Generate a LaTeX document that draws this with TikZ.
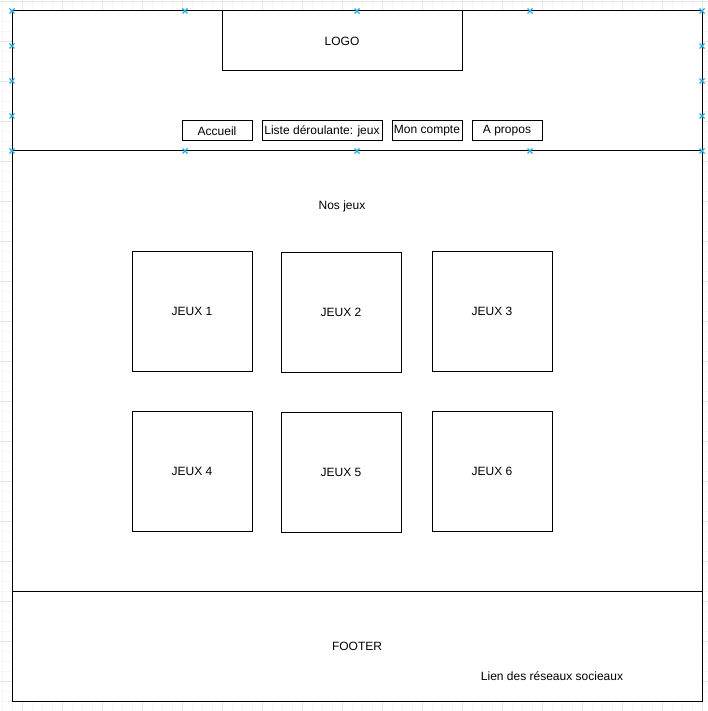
\documentclass[tikz,border=0pt]{standalone}
\usepackage{fontspec}
\setmainfont{Liberation Sans}
\definecolor{handle}{RGB}{41,170,225}
\definecolor{gridminor}{RGB}{246,246,246}
\definecolor{gridmajor}{RGB}{230,230,230}
\tikzset{
  box/.style={draw=black, fill=white, line width=1pt, inner sep=0pt, font=\fontsize{12}{14}\selectfont},
  lbl/.style={inner sep=0pt, font=\fontsize{12}{14}\selectfont},
  hmark/.style={draw=handle, line width=1.3pt},
}
\newcommand{\hdl}[1]{\draw[hmark] ($(#1)+(-2.5,-2.5)$) -- ($(#1)+(2.5,2.5)$) ($(#1)+(-2.5,2.5)$) -- ($(#1)+(2.5,-2.5)$);}
\usetikzlibrary{calc}
\begin{document}
\begin{tikzpicture}[x=1pt,y=-1pt]
\useasboundingbox (0,0) rectangle (708,711);
\fill[white] (0,0) rectangle (708,711);
% grid
\foreach \i in {0,...,70} {\draw[gridminor, line width=1pt] ({2.7+10*\i},0) -- ({2.7+10*\i},711);}
\foreach \i in {0,...,71} {\draw[gridminor, line width=1pt] (0,{1.7+10*\i}) -- (708,{1.7+10*\i});}
\foreach \i in {0,...,17} {\draw[gridmajor, line width=1pt] ({22.7+40*\i},0) -- ({22.7+40*\i},711);}
\foreach \i in {0,...,17} {\draw[gridmajor, line width=1pt] (0,{1.7+40*\i}) -- (708,{1.7+40*\i});}
% header
\node[box, minimum width=690, minimum height=140] (header) at (357,81) {};
\node[box, minimum width=240, minimum height=60] (logo) at (342,41) {LOGO};
\node[box, minimum width=70, minimum height=20] (accueil) at (217,131) {Accueil};
\node[box, minimum width=120, minimum height=20] (liste) at (322,131) {Liste déroulante: jeux};
\node[box, minimum width=70, minimum height=20] (compte) at (427,131) {Mon compte};
\node[box, minimum width=70, minimum height=20] (apropos) at (507,131) {A propos};
% body
\node[box, minimum width=690, minimum height=440] (body) at (357,371) {};
\node[lbl] (nosjeux) at (342,206) {Nos jeux};
\node[box, minimum width=120, minimum height=120] (j1) at (192,311) {JEUX 1};
\node[box, minimum width=120, minimum height=120] (j2) at (341,312) {JEUX 2};
\node[box, minimum width=120, minimum height=120] (j3) at (492,311) {JEUX 3};
\node[box, minimum width=120, minimum height=120] (j4) at (192,471) {JEUX 4};
\node[box, minimum width=120, minimum height=120] (j5) at (341,472) {JEUX 5};
\node[box, minimum width=120, minimum height=120] (j6) at (492,471) {JEUX 6};
% footer
\node[box, minimum width=690, minimum height=110] (footer) at (357,646) {};
\node[lbl] (footertxt) at (357,646) {FOOTER};
\node[lbl] (liens) at (552,676) {Lien des réseaux socieaux};
% selection handles
\foreach \x in {12,185,357,530,702} {\hdl{\x,11} \hdl{\x,151}}
\foreach \y in {46,81,116} {\hdl{12,\y} \hdl{702,\y}}
\end{tikzpicture}
\end{document}
